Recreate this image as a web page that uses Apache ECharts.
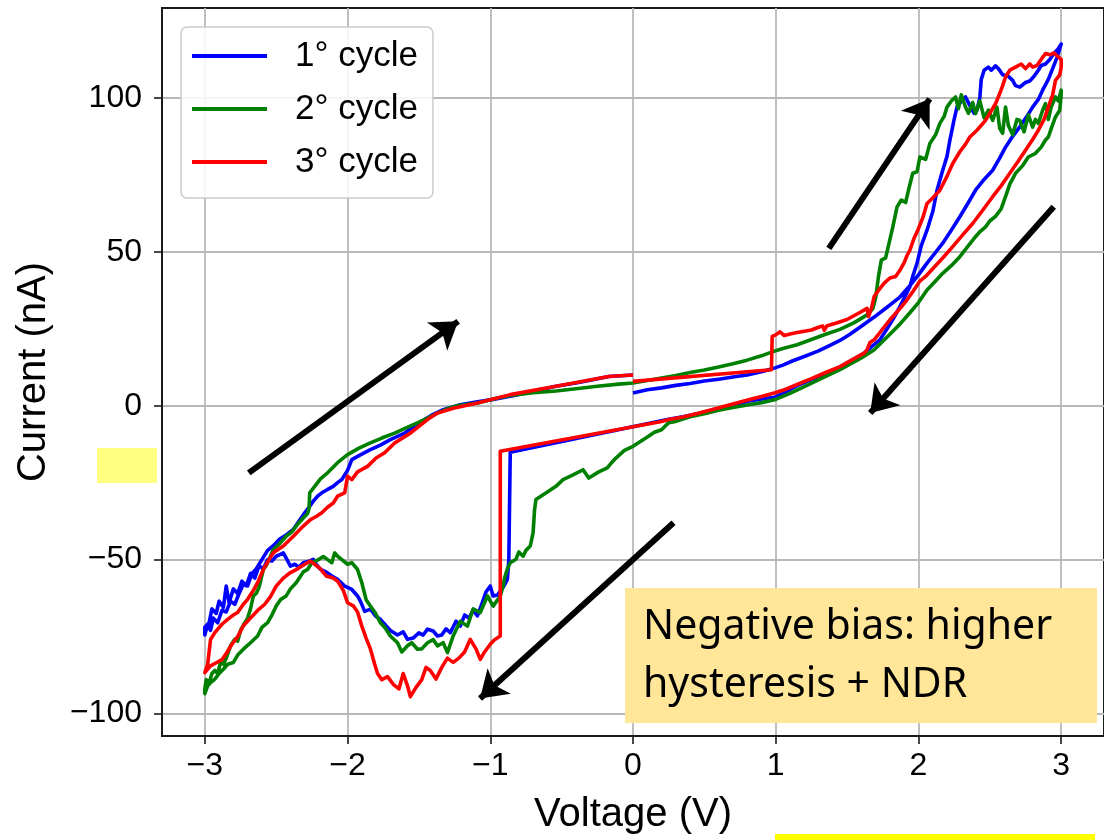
<!DOCTYPE html>
<html>
<head>
<meta charset="utf-8">
<script src="https://cdn.jsdelivr.net/npm/echarts@6/dist/echarts.min.js"></script>
<style>
html,body{margin:0;padding:0;background:#fff;}
#chart{width:1104px;height:840px;}
</style>
</head>
<body>
<div id="chart"></div>
<script>
// ---------- DATA (Voltage V, Current nA) ----------
const seriesNames = ['1° cycle', '2° cycle', '3° cycle'];
const xTicks = [-3, -2, -1, 0, 1, 2, 3];
const yTicks = [-100, -50, 0, 50, 100];

// cycle 1: 0 -> 3 V
const cycle1Up = [[0,4.1],[0.1,5.2],[0.2,5.8],[0.3,6.6],[0.4,7.2],[0.5,8.0],[0.6,8.6],[0.7,9.3],[0.8,10.0],[0.9,11.0],[0.97,11.9],[1.05,13.2],[1.12,14.6],[1.2,16.0],[1.3,17.8],[1.38,19.6],[1.45,21.2],[1.52,23.2],[1.6,25.8],[1.69,28.8],[1.78,32.0],[1.87,35.3],[1.94,39.0],[2.0,42.5],[2.06,46.3],[2.12,49.8],[2.17,52.8],[2.23,57.0],[2.29,61.4],[2.35,66.0],[2.4,70.0],[2.46,73.5],[2.52,76.5],[2.57,80.5],[2.61,84.0],[2.66,87.5],[2.71,90.6],[2.76,94.0],[2.8,97.0],[2.84,99.5],[2.87,102.5],[2.91,106],[2.94,109.5],[2.97,113],[3.0,117.5]];
// cycle 1: 3 -> -3 V
const cycle1Down = [[3.0,118],[2.98,116],[2.95,114.5],[2.92,112.5],[2.89,111],[2.86,110.5],[2.84,109],[2.81,107],[2.78,105.5],[2.75,105],[2.71,103.5],[2.68,104],[2.66,105.7],[2.63,107],[2.59,107.5],[2.56,109.5],[2.54,110.4],[2.51,109],[2.49,110],[2.46,109],[2.44,106],[2.43,100],[2.41,96],[2.39,95],[2.36,97.5],[2.33,100.3],[2.3,99],[2.27,97],[2.25,93],[2.22,86.2],[2.2,81],[2.17,76.5],[2.13,70],[2.1,63],[2.06,57],[2.02,52],[1.99,46.3],[1.96,42],[1.94,38.7],[1.9,35],[1.87,32.2],[1.82,28],[1.78,25],[1.73,21.4],[1.68,19.5],[1.62,17.1],[1.55,15.2],[1.45,12.5],[1.35,10.5],[1.25,8.5],[1.15,6.5],[1.05,4],[0.99,2.7],[0.9,2.2],[0.81,1.5],[0.72,0.3],[0.64,-0.6],[0.55,-1.5],[0.45,-2.6],[0.35,-3.6],[0.25,-4.4],[0.2,-4.9],[-0.86,-15.1],[-0.87,-50],[-0.88,-56.4],[-0.91,-59],[-0.95,-61.5],[-0.98,-61.8],[-1.0,-58.6],[-1.03,-60.5],[-1.06,-64.5],[-1.09,-68.3],[-1.12,-66.5],[-1.15,-69],[-1.18,-68],[-1.21,-71.6],[-1.24,-70],[-1.28,-73.7],[-1.31,-72.5],[-1.34,-74.5],[-1.37,-74.8],[-1.4,-73.2],[-1.44,-72.6],[-1.47,-74.5],[-1.5,-73.8],[-1.54,-75.5],[-1.58,-75.9],[-1.61,-73.5],[-1.65,-74.5],[-1.7,-73],[-1.73,-71.5],[-1.77,-69.4],[-1.8,-68.5],[-1.84,-66.1],[-1.88,-66.8],[-1.91,-63.5],[-1.93,-61.8],[-1.97,-59.7],[-2.02,-58.6],[-2.07,-56.4],[-2.11,-55.3],[-2.15,-54],[-2.19,-53.2],[-2.22,-51.5],[-2.24,-49.9],[-2.27,-50.5],[-2.31,-51],[-2.34,-52.5],[-2.37,-51.5],[-2.4,-52.1],[-2.43,-49.5],[-2.45,-47.8],[-2.48,-48.5],[-2.5,-48.9],[-2.53,-50.5],[-2.56,-50],[-2.59,-53],[-2.62,-52],[-2.65,-56],[-2.68,-54.5],[-2.71,-58.5],[-2.74,-57],[-2.77,-61],[-2.8,-59.5],[-2.83,-64],[-2.85,-58.6],[-2.87,-65.5],[-2.9,-63.5],[-2.92,-67.5],[-2.95,-66],[-2.97,-70.5],[-3.0,-72]];
// cycle 1: -3 -> 0 V
const cycle1Back = [[-3.0,-74.5],[-2.98,-71],[-2.96,-73],[-2.94,-69],[-2.91,-70.5],[-2.88,-66.5],[-2.85,-67],[-2.82,-63.5],[-2.79,-64.5],[-2.76,-61],[-2.73,-58],[-2.7,-58.5],[-2.67,-54.5],[-2.64,-53],[-2.6,-50],[-2.56,-47],[-2.52,-45.5],[-2.48,-43.5],[-2.43,-42],[-2.38,-40.2],[-2.34,-37.5],[-2.3,-34.8],[-2.27,-33],[-2.24,-31],[-2.21,-29.4],[-2.18,-28.3],[-2.14,-27.2],[-2.1,-26.2],[-2.07,-25],[-2.04,-24],[-2.02,-22.5],[-2.0,-21],[-1.97,-17.5],[-1.92,-16.2],[-1.84,-14.3],[-1.77,-12.8],[-1.7,-11],[-1.6,-8.9],[-1.53,-6.5],[-1.46,-4.5],[-1.4,-2.8],[-1.33,-1.3],[-1.21,0.3],[-1.1,1.2],[-1.0,1.9],[-0.85,3.2],[-0.7,4.6],[-0.54,6.3],[-0.4,7.4],[-0.3,8.3],[-0.17,9.5],[0,10]];

// cycle 2
const cycle2Up = [[0,7.4],[0.1,8.2],[0.2,9.0],[0.3,9.8],[0.4,10.8],[0.5,11.6],[0.6,12.6],[0.7,13.6],[0.8,14.8],[0.9,16.2],[0.97,17.4],[1.05,18.6],[1.15,19.8],[1.25,21.5],[1.35,23.2],[1.45,24.8],[1.55,27],[1.64,29.5],[1.68,31.5],[1.7,35],[1.72,42],[1.74,47.3],[1.77,48],[1.79,52],[1.82,58],[1.85,64.6],[1.88,66.8],[1.91,66],[1.93,70],[1.96,75.5],[1.99,76],[2.01,80.8],[2.05,80],[2.08,85.2],[2.12,88],[2.15,91.7],[2.18,94],[2.2,97],[2.23,99],[2.26,100.3],[2.28,96.5],[2.3,101],[2.33,97],[2.35,95],[2.38,98.5],[2.4,94.9],[2.43,99],[2.46,93.5],[2.49,96],[2.52,92.7],[2.55,97],[2.57,90],[2.59,88.5],[2.61,97],[2.63,91],[2.66,88],[2.69,93],[2.71,92.7],[2.74,89],[2.77,94.5],[2.8,90.5],[2.82,93],[2.84,91.7],[2.87,96],[2.89,98.1],[2.91,93],[2.93,97],[2.96,100.3],[2.98,99],[3.0,102.5]];
const cycle2Down = [[3.0,101],[2.99,96],[2.96,93.8],[2.93,90],[2.91,87.3],[2.89,86.3],[2.86,84],[2.82,82],[2.77,80.8],[2.73,78],[2.68,75.5],[2.64,72],[2.61,67.9],[2.58,64],[2.54,61.5],[2.5,60],[2.47,58.1],[2.43,56.5],[2.4,54.9],[2.35,52],[2.29,48.4],[2.23,45.5],[2.17,43],[2.11,40],[2.06,37.6],[2.0,33.5],[1.94,30.2],[1.87,26.5],[1.8,23.2],[1.69,18.2],[1.6,15.5],[1.45,11.7],[1.35,9.5],[1.2,6.2],[1.1,4],[0.99,1.9],[0.9,1.0],[0.81,0.3],[0.7,-0.6],[0.6,-1.5],[0.5,-2.6],[0.4,-3.6],[0.3,-5.1],[0.25,-5.5],[0.2,-7.8],[0.15,-8.6],[0.09,-10.5],[0.0,-13.2],[-0.06,-14.5],[-0.12,-17],[-0.15,-18.5],[-0.18,-20.2],[-0.24,-21.5],[-0.31,-23.5],[-0.35,-20.8],[-0.42,-22.5],[-0.49,-24],[-0.54,-26.2],[-0.6,-28],[-0.68,-30.5],[-0.69,-34],[-0.7,-41.3],[-0.72,-45.6],[-0.75,-47],[-0.77,-48.9],[-0.8,-47.5],[-0.82,-49.9],[-0.86,-51],[-0.88,-53],[-0.9,-56],[-0.91,-58.6],[-0.93,-61.8],[-0.98,-65.1],[-1.02,-61.8],[-1.07,-67.2],[-1.12,-66],[-1.16,-71.6],[-1.21,-70],[-1.26,-74.8],[-1.3,-80.2],[-1.33,-77],[-1.37,-78],[-1.4,-76],[-1.44,-77],[-1.48,-79],[-1.51,-79.1],[-1.55,-77],[-1.58,-78],[-1.62,-80],[-1.65,-77],[-1.7,-74.8],[-1.74,-72],[-1.77,-70.5],[-1.81,-67],[-1.84,-65.1],[-1.87,-63],[-1.9,-57.5],[-1.93,-53.2],[-1.97,-51],[-2.0,-51.5],[-2.04,-50],[-2.07,-48.9],[-2.09,-47.8],[-2.11,-51],[-2.14,-50],[-2.17,-49],[-2.2,-49.9],[-2.25,-51],[-2.28,-53.2],[-2.31,-54],[-2.36,-57.5],[-2.4,-59.5],[-2.43,-61.8],[-2.47,-63],[-2.5,-65.1],[-2.53,-68],[-2.56,-70.5],[-2.6,-72],[-2.63,-74.8],[-2.68,-77],[-2.73,-79.1],[-2.77,-81],[-2.8,-83.4],[-2.84,-84],[-2.87,-85.6],[-2.9,-87],[-2.93,-88.8],[-2.96,-90],[-2.98,-91],[-3.0,-93.5]];
const cycle2Back = [[-3.0,-92],[-2.99,-89],[-2.97,-90],[-2.95,-87],[-2.93,-86],[-2.91,-87],[-2.89,-83.4],[-2.87,-84],[-2.85,-82],[-2.82,-78],[-2.79,-75.9],[-2.77,-76.5],[-2.75,-73],[-2.72,-70.5],[-2.7,-69],[-2.68,-66],[-2.66,-61.8],[-2.64,-61],[-2.62,-59],[-2.59,-53.2],[-2.57,-52],[-2.55,-50],[-2.52,-46.7],[-2.48,-45],[-2.43,-42.4],[-2.39,-41],[-2.35,-38.5],[-2.31,-36.5],[-2.28,-35],[-2.27,-33.5],[-2.265,-28.3],[-2.23,-26.2],[-2.19,-23.8],[-2.14,-21.8],[-2.07,-18.5],[-2.0,-15.9],[-1.92,-13.8],[-1.84,-12.1],[-1.76,-10.5],[-1.67,-8.9],[-1.59,-7.2],[-1.51,-5.6],[-1.44,-4],[-1.37,-2.4],[-1.3,-1],[-1.23,0],[-1.09,0.9],[-0.95,2.5],[-0.86,3.3],[-0.7,4.2],[-0.54,4.8],[-0.4,5.5],[-0.25,6.3],[-0.1,7],[0,7.4]];

// cycle 3
const cycle3Up = [[0,7.9],[0.97,11.7],[0.975,22.5],[1.0,23],[1.03,24],[1.06,22.8],[1.1,23.3],[1.15,23.8],[1.2,24.2],[1.25,24.6],[1.3,25.5],[1.33,25.9],[1.34,24.5],[1.36,26],[1.42,26.8],[1.5,28],[1.57,29.8],[1.64,31.6],[1.65,29],[1.67,31.5],[1.69,35.5],[1.72,37.5],[1.76,39.8],[1.8,41.5],[1.84,42],[1.87,44],[1.9,46.5],[1.92,48.8],[1.94,50.5],[1.97,54.5],[2.0,57.5],[2.03,61],[2.06,65.7],[2.1,67.5],[2.15,70],[2.2,74.5],[2.24,78.7],[2.29,82.5],[2.33,85],[2.36,87.3],[2.41,89.5],[2.47,92.7],[2.5,95],[2.54,98.1],[2.57,101.5],[2.59,104],[2.61,106.8],[2.64,109],[2.68,110],[2.72,111],[2.75,109.5],[2.78,111],[2.8,110],[2.83,110.5],[2.86,112.5],[2.89,114.4],[2.92,114],[2.95,114.6],[2.98,113.3],[3.0,112.5]];
const cycle3Down = [[3.0,110],[2.99,107.5],[2.96,105.7],[2.94,101],[2.91,97],[2.88,93],[2.84,89.5],[2.8,86.5],[2.75,83],[2.7,79.5],[2.64,75.5],[2.58,71.5],[2.52,67.9],[2.45,63.5],[2.38,59.2],[2.31,55.5],[2.24,51.7],[2.17,48],[2.1,44.5],[2.05,42],[2.01,40.5],[1.96,37],[1.92,34.4],[1.86,31],[1.8,27.9],[1.75,25],[1.69,21.4],[1.66,20.5],[1.64,18.2],[1.62,17.1],[1.55,15.3],[1.45,12.7],[1.35,10.8],[1.25,8.8],[1.15,6.9],[1.05,5],[0.99,4.1],[0.9,3],[0.81,1.9],[0.72,0.8],[0.64,-0.2],[0.55,-1.3],[0.45,-2.5],[0.35,-3.7],[0.25,-4.5],[0.2,-5.1],[-0.93,-14.8],[-0.93,-74.8],[-0.97,-76],[-1.0,-77.5],[-1.04,-80],[-1.07,-82.4],[-1.1,-79],[-1.14,-75.9],[-1.18,-80],[-1.22,-82],[-1.26,-83.4],[-1.3,-82],[-1.34,-85],[-1.38,-88.8],[-1.42,-86],[-1.45,-85],[-1.48,-89],[-1.52,-91.5],[-1.56,-94.5],[-1.58,-91],[-1.61,-87],[-1.64,-92],[-1.68,-90.5],[-1.72,-88],[-1.76,-89],[-1.79,-87],[-1.81,-84],[-1.84,-79],[-1.87,-75.5],[-1.9,-71.6],[-1.93,-67],[-1.96,-65],[-2.0,-64],[-2.03,-60],[-2.07,-57],[-2.1,-56],[-2.15,-55.3],[-2.19,-53],[-2.23,-51.5],[-2.26,-50.5],[-2.3,-51.5],[-2.35,-53],[-2.4,-54.2],[-2.45,-56],[-2.5,-58.6],[-2.54,-62],[-2.58,-64.5],[-2.63,-66.5],[-2.68,-69],[-2.73,-71.5],[-2.77,-75],[-2.81,-77.5],[-2.85,-80.5],[-2.88,-82.5],[-2.92,-83.5],[-2.96,-84.5],[-3.0,-86.7]];
const cycle3Back = [[-3.0,-87],[-2.98,-84],[-2.96,-76],[-2.93,-73.7],[-2.88,-71],[-2.84,-69.4],[-2.8,-68],[-2.77,-67.2],[-2.73,-64.5],[-2.7,-62.9],[-2.66,-60],[-2.63,-57.5],[-2.59,-53.2],[-2.55,-50],[-2.52,-47.8],[-2.45,-45.6],[-2.38,-42.4],[-2.31,-39.1],[-2.26,-37],[-2.22,-36],[-2.18,-34.8],[-2.14,-33],[-2.1,-31.6],[-2.07,-29.4],[-2.02,-28.3],[-2.0,-22.9],[-1.97,-24],[-1.93,-21.5],[-1.86,-19.7],[-1.8,-17],[-1.74,-15.3],[-1.67,-12.1],[-1.56,-8.9],[-1.44,-4.5],[-1.37,-2.4],[-1.26,-0.8],[-1.09,0.9],[-0.86,3.6],[-0.54,6.3],[-0.17,9.5],[0,10]];

// sweep-direction arrows: [tail, head] in data units
const arrows = [
  [[-2.692,-21.8],[-1.225,27.4]],
  [[1.372,51.1],[2.079,99.7]],
  [[2.948,64.6],[1.662,-2.4]],
  [[0.284,-38.0],[-1.072,-95.1]]
];

const cycles = [
  cycle1Up.concat(cycle1Down, cycle1Back),
  cycle2Up.concat(cycle2Down, cycle2Back),
  cycle3Up.concat(cycle3Down, cycle3Back)
];
const colors = ['#0000ff', '#008000', '#ff0000'];

const fmt = v => (v < 0 ? '\u2212' + Math.abs(v) : String(v));
const FONT = '"Liberation Sans", Arial, Helvetica, sans-serif';

const chart = echarts.init(document.getElementById('chart'), null, {renderer: 'canvas'});

const series = cycles.map((d, k) => ({
  name: seriesNames[k],
  type: 'line',
  data: d,
  showSymbol: false,
  symbol: 'none',
  smooth: false,
  animation: false,
  z: 3 + k,
  lineStyle: {color: colors[k], width: 3.6, join: 'round'},
  itemStyle: {color: colors[k]},
  emphasis: {disabled: true}
}));

series.push({
  name: 'arrows',
  type: 'line',
  data: [],
  animation: false,
  silent: true,
  z: 10,
  markLine: {
    silent: true,
    animation: false,
    symbol: ['none', 'arrow'],
    symbolSize: 26,
    label: {show: false},
    emphasis: {disabled: true},
    lineStyle: {color: '#000', width: 6, type: 'solid'},
    data: arrows.map(a => [{coord: a[0]}, {coord: a[1]}])
  }
});

const option = {
  backgroundColor: '#ffffff',
  animation: false,
  grid: {
    left: 162, top: 8, width: 950, height: 729,
    show: true, borderColor: '#1a1a1a', borderWidth: 2, backgroundColor: 'transparent'
  },
  xAxis: {
    type: 'value', min: -3.3, max: 3.3,
    name: 'Voltage (V)', nameLocation: 'middle', nameGap: 59,
    nameTextStyle: {fontFamily: FONT, fontSize: 40, color: '#000'},
    axisLine: {show: true, onZero: false, lineStyle: {color: '#1a1a1a', width: 2}},
    axisTick: {show: true, inside: false, length: 8, customValues: xTicks, lineStyle: {color: '#1a1a1a', width: 1.6}},
    axisLabel: {customValues: xTicks, formatter: fmt, fontFamily: FONT, fontSize: 32, color: '#000', margin: 14},
    splitLine: {show: true, lineStyle: {color: '#b8b8b8', width: 1.8}}
  },
  yAxis: {
    type: 'value', min: -107.3, max: 129.2,
    name: 'Current (nA)', nameLocation: 'middle', nameGap: 108, nameRotate: 90,
    nameTextStyle: {fontFamily: FONT, fontSize: 40, color: '#000'},
    axisLine: {show: true, onZero: false, lineStyle: {color: '#1a1a1a', width: 2}},
    axisTick: {show: true, inside: false, length: 8, customValues: yTicks, lineStyle: {color: '#1a1a1a', width: 1.6}},
    axisLabel: {customValues: yTicks, formatter: fmt, fontFamily: FONT, fontSize: 32, color: '#000', margin: 20},
    splitLine: {show: true, lineStyle: {color: '#b8b8b8', width: 1.8}}
  },
  legend: {
    data: seriesNames,
    orient: 'vertical',
    left: 181, top: 27,
    padding: [9, 15, 16, 11],
    itemGap: 13,
    itemWidth: 75, itemHeight: 4,
    icon: 'rect',
    backgroundColor: 'rgba(255,255,255,0.85)',
    borderColor: '#cccccc', borderWidth: 1.5, borderRadius: 6,
    textStyle: {fontFamily: FONT, fontSize: 35, color: '#000', lineHeight: 40, padding: [0, 0, 0, 23]},
    selectedMode: false,
    z: 20
  },
  graphic: [
    {type: 'rect', z: 100, shape: {x: 625, y: 588, width: 472, height: 135}, style: {fill: '#FFE699'}},
    {type: 'text', z: 101, x: 643, y: 627, style: {text: 'Negative bias: higher', font: '41px "Noto Sans"', fill: '#000', textVerticalAlign: 'middle', verticalAlign: 'middle'}},
    {type: 'text', z: 101, x: 643, y: 685, style: {text: 'hysteresis + NDR', font: '41px "Noto Sans"', fill: '#000', textVerticalAlign: 'middle', verticalAlign: 'middle'}},
    {type: 'rect', z: 100, shape: {x: 97, y: 448, width: 60, height: 35}, style: {fill: '#FFFF80'}},
    {type: 'rect', z: 100, shape: {x: 775, y: 834, width: 320, height: 6}, style: {fill: '#FFFF00'}}
  ],
  series: series
};

chart.setOption(option);
</script>
</body>
</html>
